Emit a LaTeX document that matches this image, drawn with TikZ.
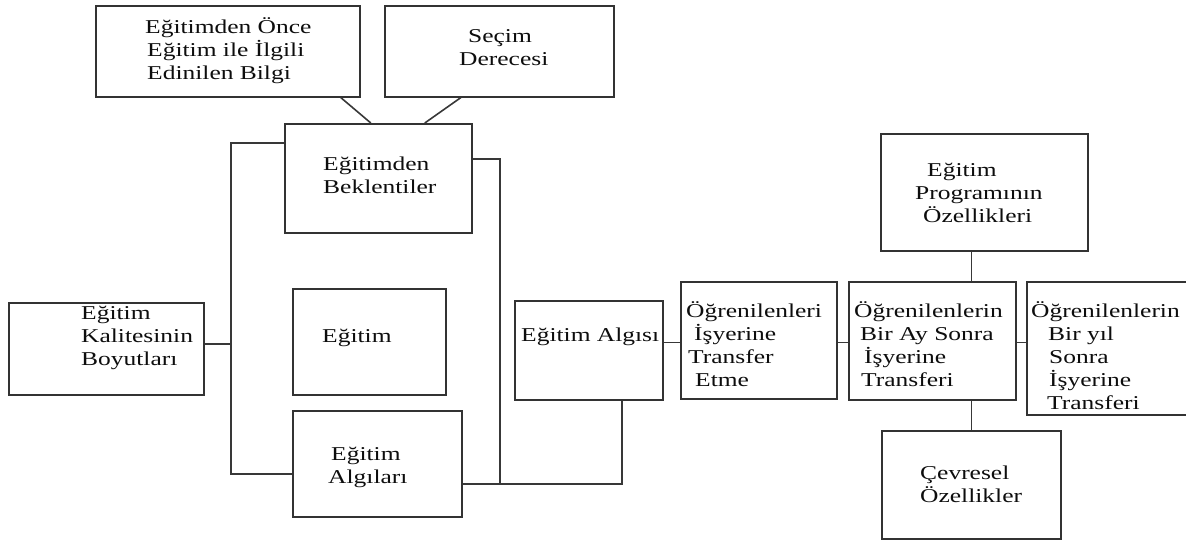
\documentclass[tikz,border=0pt]{standalone}
\usepackage{fontspec}
\setmainfont{Liberation Serif}[FakeStretch=1.3]
\begin{document}
\begin{tikzpicture}[x=1pt,y=-1pt,
  box/.style={draw=black!80, line width=1.6pt, inner sep=0pt, anchor=north west, rectangle},
  txt/.style={anchor=base west, align=left, inner sep=0pt, text=black!95,
              font=\fontsize{19.6}{23}\selectfont},
  link/.style={draw=black!78, line width=1.6pt}]
\useasboundingbox (0,0) rectangle (1186,541);
% boxes
\node[box, minimum width=264pt, minimum height=91pt]  (b1)  at (95,5)    {};
\node[box, minimum width=229pt, minimum height=91pt]  (b2)  at (384,5)   {};
\node[box, minimum width=187pt, minimum height=109pt] (b3)  at (284,123) {};
\node[box, minimum width=195pt, minimum height=92pt]  (b4)  at (8,302)   {};
\node[box, minimum width=153pt, minimum height=106pt] (b5)  at (292,288) {};
\node[box, minimum width=169pt, minimum height=106pt] (b6)  at (292,410) {};
\node[box, minimum width=148pt, minimum height=99pt]  (b7)  at (514,300) {};
\node[box, minimum width=156pt, minimum height=117pt] (b8)  at (680,281) {};
\node[box, minimum width=167pt, minimum height=118pt] (b9)  at (848,281) {};
\node[box, minimum width=166pt, minimum height=133pt] (b10) at (1026,281) {};
\node[box, minimum width=207pt, minimum height=117pt] (b11) at (880,133) {};
\node[box, minimum width=179pt, minimum height=108pt] (b12) at (881,430) {};
% texts (anchored at the baseline of the last line)
\node[txt] (t1) at (145,79) {Eğitimden Önce\\\hspace{2pt}Eğitim ile İlgili\\\hspace{2pt}Edinilen Bilgi};
\node[txt] (t2) at (459,65) {\hspace{9pt}Seçim\\Derecesi};
\node[txt] (t3) at (323,193) {Eğitimden\\Beklentiler};
\node[txt] (t4) at (81,365) {Eğitim\\Kalitesinin\\Boyutları};
\node[txt] (t5) at (322,342) {Eğitim};
\node[txt] (t6) at (328,483) {\hspace{3pt}Eğitim\\Algıları};
\node[txt] (t7) at (521,341) {Eğitim Algısı};
\node[txt] (t8) at (686,386) {Öğrenilenleri\\\hspace{8pt}İşyerine\\\hspace{2pt}Transfer\\\hspace{9pt}Etme};
\node[txt] (t9) at (854,386) {Öğrenilenlerin\\\hspace{6pt}Bir Ay Sonra\\\hspace{10pt}İşyerine\\\hspace{7pt}Transferi};
\node[txt] (t10) at (1031,409) {Öğrenilenlerin\\\hspace{17pt}Bir yıl\\\hspace{18pt}Sonra\\\hspace{18pt}İşyerine\\\hspace{16pt}Transferi};
\node[txt] (t11) at (915,222) {\hspace{12pt}Eğitim\\Programının\\\hspace{8pt}Özellikleri};
\node[txt] (t12) at (920,502) {Çevresel\\Özellikler};
% helper coordinates
\coordinate (lbT) at (231,143);
\coordinate (lbB) at (231,474);
\coordinate (rbT) at (500,159);
\coordinate (rbB) at (500,484);
\coordinate (bl)  at (622,484);
\coordinate (c89) at ([yshift=-2pt]b8.east);
% connectors
\draw[link] ([xshift=113pt]b1.south) -- ([xshift=-7.5pt]b3.north);
\draw[link] ([xshift=-38.5pt]b2.south) -- ([xshift=46.5pt]b3.north);
\draw[link] (b3.west |- lbT) -- (lbT) -- (lbB) -- (b6.west |- lbB);
\draw[link] ([yshift=5pt]b4.east) -- ([yshift=5pt]b4.east -| lbT);
\draw[link] (b3.east |- rbT) -- (rbT) -- (rbB);
\draw[link] (b6.east |- rbB) -- (bl) -- (bl |- b7.south);
\draw[link] (b7.east |- c89) -- (b8.west |- c89);
\draw[link] (b8.east |- c89) -- (b9.west |- c89);
\draw[link] (b9.east |- c89) -- (b10.west |- c89);
\draw[link] (b11.south -| b12.north) -- (b9.north -| b12.north);
\draw[link] (b9.south -| b12.north) -- (b12.north);
\end{tikzpicture}
\end{document}
